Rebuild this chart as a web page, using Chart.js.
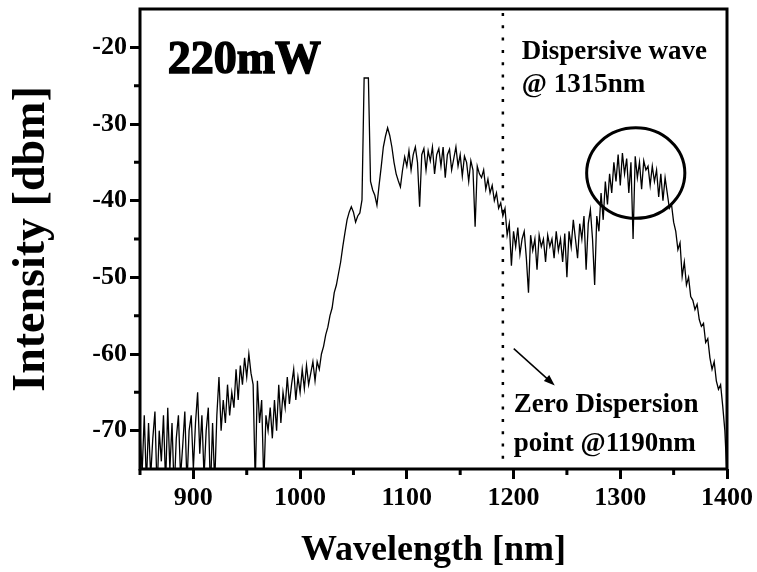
<!DOCTYPE html>
<html>
<head>
<meta charset="utf-8">
<script src="https://cdn.jsdelivr.net/npm/chart.js@4"></script>
<style>
  html, body { margin: 0; padding: 0; background: #fff; }
  canvas { display: block; }
</style>
</head>
<body>
<canvas id="spectrum" width="757" height="572"></canvas>
<script>
const startNm = 850;
const stepNm = 2;
const intensity = [
  -70, -75.5, -68, -77, -69, -76, -71, -67.5, -78, -70,       // 850
  -74, -68, -77, -67, -75, -69, -78, -71, -68, -76,           // 870
  -72, -67.5, -77, -70, -68, -75, -69, -65, -73, -68,         // 890
  -76, -70, -67, -78, -69, -77, -68, -63, -70, -66,           // 910
  -69, -64, -68, -65, -67, -62, -66, -61.5, -64, -60.5,       // 930
  -63, -60, -62.5, -64, -77, -63.5, -69, -66, -77, -68,       // 950
  -70, -67, -71, -66, -70, -64, -69, -65, -67, -63,           // 970
  -66.5, -64, -62, -66, -63, -65, -62, -64.5, -61.5, -64,     // 990
  -62.5, -61, -63.5, -61, -62, -60, -59, -57.5, -56.5, -55,   // 1010
  -54, -52, -51, -49.5, -48, -46, -44.2, -42.5, -41.5, -40.8, // 1030
  -41.5, -42.8, -42, -41.6, -39.9, -24, -24, -24, -37.5, -38.6, // 1050
  -39.3, -40.6, -38, -35.6, -33, -31.6, -30.5, -31.5, -33, -35, // 1070
  -36.5, -37.4, -38.2, -36, -34.3, -35.5, -33.5, -36, -34, -33, // 1090
  -35, -40.8, -34, -33.2, -36, -33.5, -34.8, -33, -36.5, -34, // 1110
  -33.2, -35.5, -33, -37, -34, -33.3, -36, -34.5, -33, -35.5, // 1130
  -34, -36.8, -34.2, -35, -37.5, -34.8, -36, -43.4, -35.5, -36.5, // 1150
  -37, -36, -38.5, -37.2, -39, -38, -40, -39, -41, -40.3,     // 1170
  -42, -41, -44.5, -43, -48.5, -44, -46, -43.5, -47, -45,     // 1190
  -44, -47.5, -52, -44.5, -46.5, -45, -49, -44.5, -46, -45,   // 1210
  -48, -44.5, -46, -45, -47.5, -44, -46.5, -45, -48, -44.3,   // 1230
  -50, -44, -46, -42.5, -45, -47.5, -43, -45, -42, -49,       // 1250
  -43, -41.2, -45, -51, -42, -44, -39, -42.5, -37.5, -40.5,   // 1270
  -36.5, -39, -35, -37.5, -34, -38, -33.8, -36.5, -34.5, -39, // 1290
  -35, -45, -34.2, -37, -35, -38.5, -34.8, -36, -35.5, -38,   // 1310
  -35.5, -37.5, -36, -39.5, -36.5, -40, -37, -39, -41, -40.5, // 1330
  -42.8, -44, -46.4, -45.5, -49.9, -48, -51, -50, -52.5, -53, // 1350
  -54.2, -53.5, -55.5, -56.4, -56, -58.5, -58, -60.5, -62, -61, // 1370
  -63.5, -64.6, -64, -66.8, -70, -76                          // 1390
];

const xTicks = [900, 1000, 1100, 1200, 1300, 1400];
const xMinorTicks = [850, 950, 1050, 1150, 1250, 1350];
const yTicks = [-70, -60, -50, -40, -30, -20];
const yMinorTicks = [-65, -55, -45, -35, -25];

const zeroDispersionNm = 1190;
const dispersiveWave = { x: 1314.5, y: -36.4, rx: 46, ry: 5.9 };

const serif = '"Liberation Serif", "Times New Roman", serif';

const points = intensity.map((v, i) => ({ x: startNm + i * stepNm, y: v }));

const overlay = {
  id: 'overlay',
  afterDatasetsDraw(chart) {
    const { ctx, chartArea: a, scales: { x, y } } = chart;
    ctx.save();
    ctx.strokeStyle = '#000';
    ctx.fillStyle = '#000';

    // frame
    ctx.lineWidth = 3;
    ctx.strokeRect(a.left, a.top, a.right - a.left, a.bottom - a.top);

    // minor ticks
    ctx.beginPath();
    xMinorTicks.forEach(v => {
      const px = x.getPixelForValue(v);
      ctx.moveTo(px, a.bottom);
      ctx.lineTo(px, a.bottom + 6);
    });
    yMinorTicks.forEach(v => {
      const py = y.getPixelForValue(v);
      ctx.moveTo(a.left, py);
      ctx.lineTo(a.left - 6, py);
    });
    ctx.stroke();

    // zero dispersion dotted line
    const zx = x.getPixelForValue(zeroDispersionNm);
    ctx.lineWidth = 2.5;
    ctx.setLineDash([3, 9.3]);
    ctx.beginPath();
    ctx.moveTo(zx, a.top + 4);
    ctx.lineTo(zx, a.bottom);
    ctx.stroke();
    ctx.setLineDash([]);

    // circle round the dispersive wave
    const cx = x.getPixelForValue(dispersiveWave.x);
    const cy = y.getPixelForValue(dispersiveWave.y);
    const rx = x.getPixelForValue(dispersiveWave.x + dispersiveWave.rx) - cx;
    const ry = cy - y.getPixelForValue(dispersiveWave.y + dispersiveWave.ry);
    ctx.lineWidth = 3;
    ctx.beginPath();
    ctx.ellipse(cx, cy, rx, ry, 0, 0, Math.PI * 2);
    ctx.stroke();

    // arrow
    const x0 = x.getPixelForValue(1200.2), y0 = y.getPixelForValue(-59.3);
    const x1 = x.getPixelForValue(1238.6), y1 = y.getPixelForValue(-64.1);
    const ang = Math.atan2(y1 - y0, x1 - x0);
    ctx.lineWidth = 1.5;
    ctx.beginPath();
    ctx.moveTo(x0, y0);
    ctx.lineTo(x1 - 8 * Math.cos(ang), y1 - 8 * Math.sin(ang));
    ctx.stroke();
    ctx.beginPath();
    ctx.moveTo(x1, y1);
    ctx.lineTo(x1 - 11 * Math.cos(ang) + 4 * Math.sin(ang), y1 - 11 * Math.sin(ang) - 4 * Math.cos(ang));
    ctx.lineTo(x1 - 11 * Math.cos(ang) - 4 * Math.sin(ang), y1 - 11 * Math.sin(ang) + 4 * Math.cos(ang));
    ctx.closePath();
    ctx.fill();

    // labels
    ctx.textAlign = 'left';
    ctx.textBaseline = 'alphabetic';
    ctx.font = 'bold 46px ' + serif;
    ctx.lineWidth = 1.5;
    ctx.fillText('220mW', x.getPixelForValue(876), y.getPixelForValue(-23.3));
    ctx.strokeText('220mW', x.getPixelForValue(876), y.getPixelForValue(-23.3));

    ctx.font = 'bold 27px ' + serif;
    ctx.fillText('Dispersive wave', x.getPixelForValue(1207.7), y.getPixelForValue(-21.5));
    ctx.fillText('@ 1315nm', x.getPixelForValue(1207.7), y.getPixelForValue(-25.8));
    ctx.fillText('Zero Dispersion', x.getPixelForValue(1200.2), y.getPixelForValue(-67.5));
    ctx.fillText('point @1190nm', x.getPixelForValue(1200.2), y.getPixelForValue(-72.7));

    ctx.restore();
  }
};

const tickFont = { family: serif, size: 26, weight: 'bold' };
const axisGrid = {
  drawOnChartArea: false,
  drawTicks: true,
  tickLength: 10,
  tickWidth: 3,
  tickColor: '#000'
};

new Chart(document.getElementById('spectrum'), {
  type: 'line',
  data: {
    datasets: [{
      data: points,
      borderColor: '#000',
      borderWidth: 1.3,
      pointRadius: 0,
      tension: 0,
      fill: false
    }]
  },
  options: {
    responsive: false,
    animation: false,
    events: [],
    layout: { padding: { left: 0, right: 29, top: 9, bottom: 0 } },
    plugins: {
      legend: { display: false },
      tooltip: { enabled: false }
    },
    scales: {
      x: {
        type: 'linear',
        min: 850,
        max: 1400,
        afterFit: s => { s.height = 103; },
        afterBuildTicks: s => { s.ticks = xTicks.map(v => ({ value: v })); },
        ticks: {
          font: tickFont,
          color: '#000',
          padding: 4,
          maxRotation: 0,
          autoSkip: false,
          callback: v => String(v)
        },
        grid: axisGrid,
        border: { display: false },
        title: {
          display: true,
          text: 'Wavelength [nm]',
          color: '#000',
          font: { family: serif, size: 36, weight: 'bold' },
          padding: { top: 0, bottom: 0 }
        }
      },
      y: {
        min: -75,
        max: -15,
        afterFit: s => {
          s.width = 140;
          s.paddingTop = 0;
          s.paddingBottom = 0;
        },
        afterBuildTicks: s => { s.ticks = yTicks.map(v => ({ value: v })); },
        ticks: {
          font: tickFont,
          color: '#000',
          padding: 3,
          autoSkip: false,
          callback: v => String(v)
        },
        grid: axisGrid,
        border: { display: false },
        title: {
          display: true,
          text: 'Intensity [dbm]',
          color: '#000',
          font: { family: serif, size: 46, weight: 'bold' },
          padding: { top: 5, bottom: 0 }
        }
      }
    }
  },
  plugins: [overlay]
});
</script>
</body>
</html>
